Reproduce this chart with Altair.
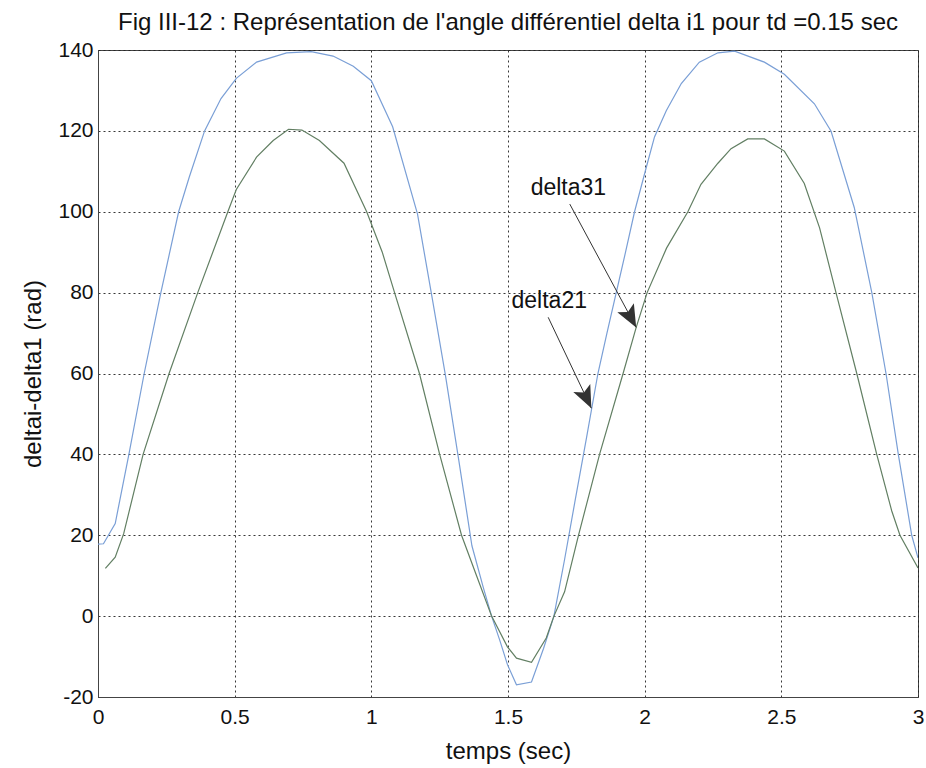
import math
import altair as alt
import pandas as pd

# ---- data ----
t31 = [0.0, 0.02, 0.063, 0.113, 0.169, 0.23, 0.295, 0.334, 0.39, 0.45, 0.506, 0.58,
       0.69, 0.78, 0.86, 0.934, 1.0, 1.078, 1.169, 1.223, 1.271, 1.32, 1.368, 1.41,
       1.44, 1.47, 1.498, 1.531, 1.586, 1.63, 1.668, 1.707, 1.744, 1.787, 1.829,
       1.862, 1.896, 1.93, 1.963, 2.006, 2.036, 2.079, 2.134, 2.2, 2.268, 2.329,
       2.438, 2.511, 2.621, 2.682, 2.767, 2.831, 2.883, 2.928, 2.977, 3.0]
d31 = [17.8, 17.9, 22.9, 40, 60, 80, 100, 108.6, 120, 128, 133, 137,
       139.3, 139.6, 138.5, 136, 132.4, 121, 99.4, 78.5, 59.6, 38.5, 17.4, 7,
       0, -6, -12, -17, -16.3, -8, 0, 14, 28, 44, 60,
       70, 80, 90, 100, 111, 118.5, 125, 131.7, 137, 139.3, 139.7,
       137, 134, 126.7, 119.9, 101, 80, 60, 40, 20, 14.4]

t21 = [0.027, 0.063, 0.094, 0.165, 0.26, 0.365, 0.475, 0.506, 0.58, 0.641, 0.697,
       0.746, 0.81, 0.9, 0.983, 1.04, 1.085, 1.176, 1.25, 1.33, 1.385, 1.44, 1.498,
       1.531, 1.586, 1.64, 1.668, 1.707, 1.756, 1.835, 1.921, 1.969, 2.009, 2.08,
       2.158, 2.206, 2.268, 2.316, 2.377, 2.438, 2.511, 2.584, 2.64, 2.70, 2.776,
       2.849, 2.904, 2.934, 3.0]
d21 = [11.8, 14.6, 20.4, 40, 60, 80, 100, 105.5, 113.5, 117.6, 120.4,
       120.2, 117.6, 112, 100, 90, 80, 60, 40, 20, 10, 0, -7.6,
       -10.4, -11.4, -5.4, 0, 6, 19.5, 40, 60, 71.4, 80, 91,
       100, 106.8, 112, 115.6, 118, 118, 115, 107, 96, 80, 60,
       40, 26, 20, 11.9]

x_ticks = [0, 0.5, 1, 1.5, 2, 2.5, 3]
y_ticks = [-20, 0, 20, 40, 60, 80, 100, 120, 140]

labels = ["delta31", "delta21"]
label_t = [1.721, 1.651]
label_v = [105.9, 78.0]
arrow_t0 = [1.726, 1.647]
arrow_v0 = [101.9, 73.9]
arrow_t1 = [1.969, 1.805]
arrow_v1 = [71.4, 51.4]

title = "Fig III-12 : Représentation de l'angle différentiel delta i1 pour td =0.15 sec"
x_title = "temps (sec)"
y_title = "deltai-delta1 (rad)"

# ---- layout / style ----
W, H = 820, 647
FONT = "Liberation Sans"
px_per_t = W / 3.0
px_per_v = H / 160.0

curves = pd.concat([
    pd.DataFrame({"t": t31, "v": d31, "s": "delta31"}),
    pd.DataFrame({"t": t21, "v": d21, "s": "delta21"}),
], ignore_index=True)

angles = []
for a, b, c, d in zip(arrow_t0, arrow_v0, arrow_t1, arrow_v1):
    dx = (c - a) * px_per_t
    dy = -(d - b) * px_per_v
    angles.append(math.degrees(math.atan2(-dx, dy)) % 360)

ann = pd.DataFrame({"label": labels, "lt": label_t, "lv": label_v,
                    "t0": arrow_t0, "v0": arrow_v0, "t1": arrow_t1, "v1": arrow_v1,
                    "ang": angles})

xs = alt.Scale(domain=[0, 3], nice=False, zero=False)
ys = alt.Scale(domain=[-20, 140], nice=False, zero=False)

common = dict(labelExpr="toString(datum.value)",
              grid=True, gridDash=[2, 3], gridColor="#222", gridWidth=1, gridOpacity=0.9,
              ticks=False, domain=True, domainColor="#444",
              labelFontSize=21, titleFontSize=24, labelFont=FONT, titleFont=FONT,
              titleFontWeight="normal", labelColor="#111", titleColor="#111",
              labelFlush=False)
x_axis = alt.Axis(values=x_ticks, title=x_title, labelPadding=9, titlePadding=12, **common)
y_axis = alt.Axis(values=y_ticks, title=y_title, labelPadding=5, titlePadding=12, **common)

lines = alt.Chart(curves).mark_line(strokeWidth=1.2, clip=True).encode(
    x=alt.X("t:Q", scale=xs, axis=x_axis),
    y=alt.Y("v:Q", scale=ys, axis=y_axis),
    color=alt.Color("s:N", scale=alt.Scale(domain=["delta31", "delta21"],
                                           range=["#7a9fd6", "#627f63"]), legend=None),
    detail="s:N",
    order="t:Q",
)

arrows = alt.Chart(ann).mark_rule(color="#333", strokeWidth=1).encode(
    x="t0:Q", y="v0:Q", x2="t1:Q", y2="v1:Q")

heads = alt.Chart(ann).mark_point(
    shape="M0,0 L-0.42,-1 L0,-0.78 L0.42,-1 Z", filled=True, color="#333",
    opacity=1, size=2000, strokeWidth=0).encode(
    x="t1:Q", y="v1:Q", angle=alt.Angle("ang:Q", scale=None))

texts = alt.Chart(ann).mark_text(fontSize=23, font=FONT, color="#111").encode(
    x="lt:Q", y="lv:Q", text="label:N")

chart = alt.layer(lines, arrows, heads, texts).properties(
    width=W, height=H,
    title=alt.TitleParams(title, fontSize=24, font=FONT, fontWeight="normal",
                          color="#111", anchor="middle", offset=4),
    autosize=alt.AutoSizeParams(type="none"),
    padding={"left": 98, "top": 50, "right": 8, "bottom": 71},
    background="white",
).configure_view(stroke="#444", strokeWidth=1)

chart.save("out.html", embed_options={"renderer": "svg", "actions": False})
